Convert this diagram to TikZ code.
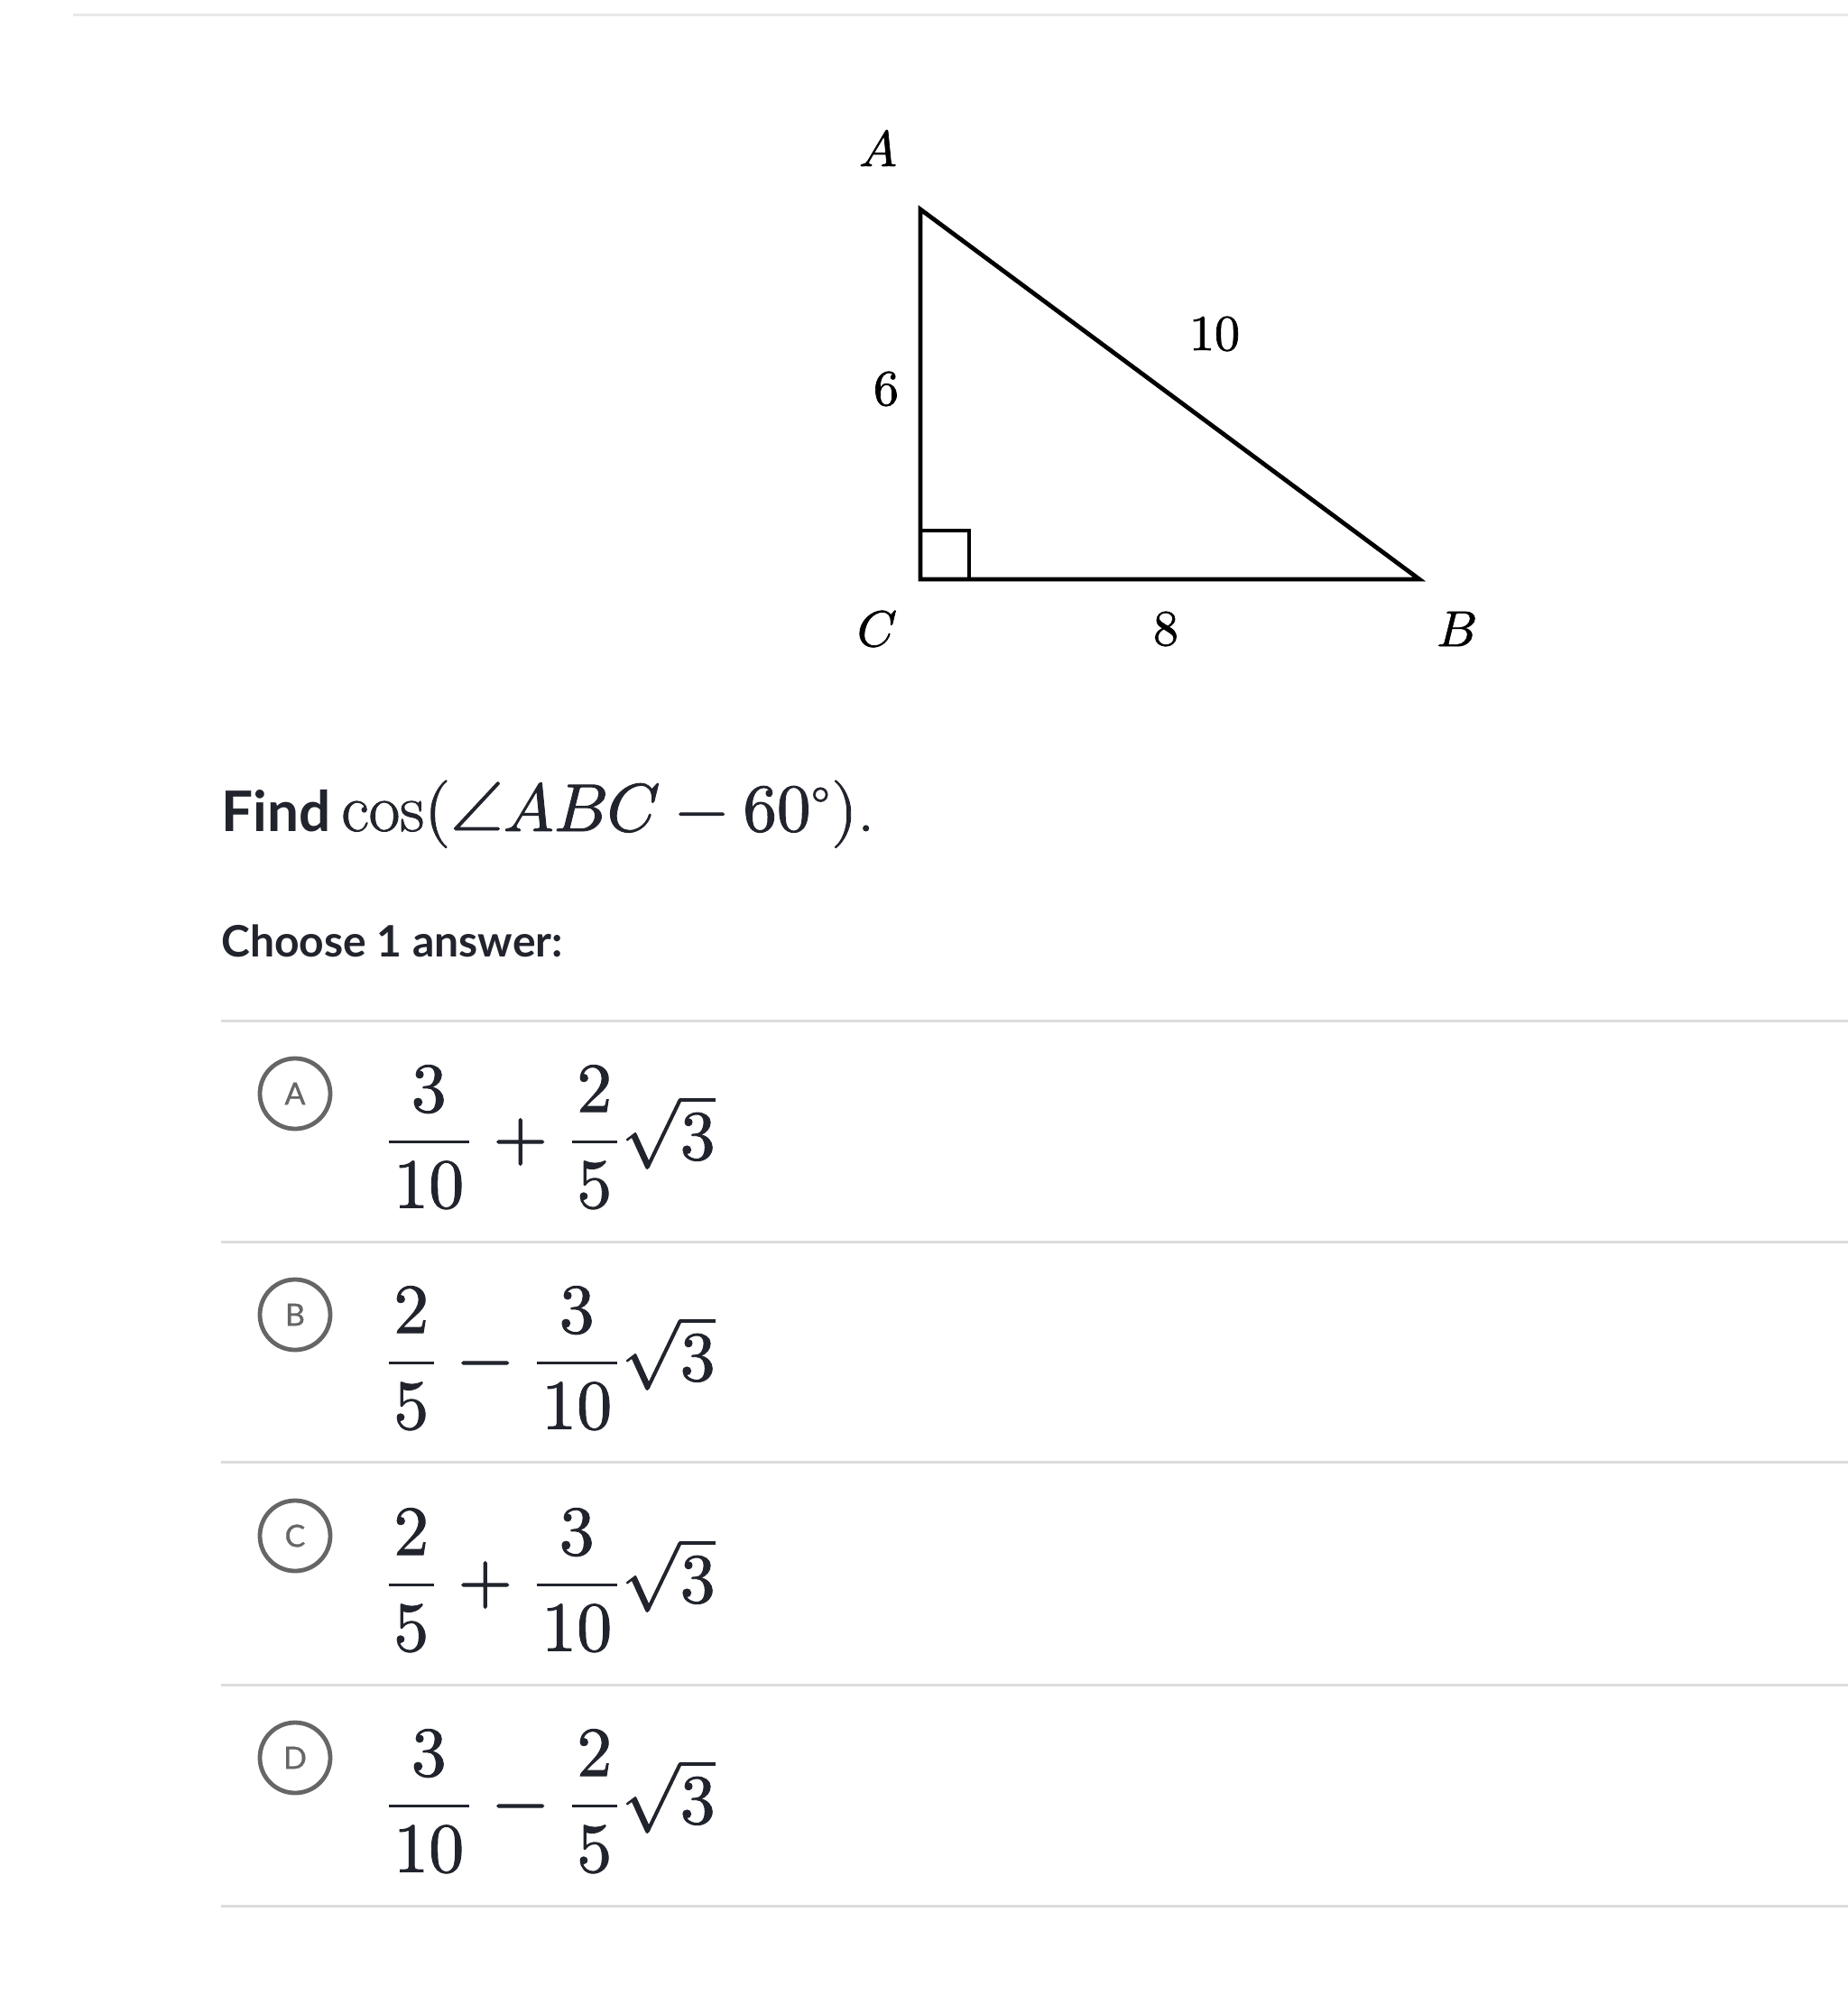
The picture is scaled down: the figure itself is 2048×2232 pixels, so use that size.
\documentclass[tikz,border=0pt]{standalone}
\usepackage{amsmath}
\usepackage{fontspec}
\usepackage{unicode-math}
\setmathfont{Latin Modern Math}[FakeBold=1.2]
\newfontfamily\lato{Lato}
\newfontfamily\latoc{Lato}[FakeBold=0.8]
\setmainfont{Latin Modern Roman}[FakeBold=1.2]
\definecolor{ink}{HTML}{21242C}
\definecolor{sepgray}{HTML}{DCDCDC}
\definecolor{topgray}{HTML}{E8E8E8}
\definecolor{optgray}{HTML}{666666}
\newcommand{\pd}[1]{\mkern1.25mu#1\mkern1.25mu}
\newcommand{\ansfont}{\fontsize{39pt}{46pt}\selectfont\setlength{\nulldelimiterspace}{4.7pt}}
\begin{document}
\begin{tikzpicture}[x=0.5pt,y=-0.5pt,
  sepline/.style={draw=sepgray, line width=1.5pt},
  tri/.style={draw=black, line width=2.4pt, line join=miter},
  lbl/.style={inner sep=0pt, font=\fontsize{28pt}{34pt}\selectfont},
  optc/.style={circle, draw=optgray, line width=2.4pt, minimum size=39pt, inner sep=0pt, text=optgray, font=\latoc\fontsize{17pt}{20pt}\selectfont},
  ans/.style={anchor=base west, inner sep=0pt, text=ink, font=\ansfont}]
\useasboundingbox (0,0) rectangle (2048,2232);
% top rule
\coordinate (t1) at (81,17);
\coordinate (t2) at (2048,17);
\draw[draw=topgray, line width=1.5pt] (t1) -- (t2);
% triangle
\coordinate (A) at (1020,232);
\coordinate (C) at (1020,642);
\coordinate (B) at (1573,642);
\draw[tri] (A) -- (B) -- (C) -- cycle;
\draw[tri] (C) ++(0,-54) -- ++(54,0) -- ++(0,54);
\node[lbl] (lA) at (973,164) {$A$};
\node[lbl] (lC) at (972,697) {$C$};
\node[lbl] (lB) at (1614,697) {$B$};
\node[lbl] (l6) at (982,431) {$6$};
\node[lbl] (l10) at (1346,370) {$10$};
\node[lbl] (l8) at (1292,697) {$8$};
% question
\node[anchor=base west, inner sep=0pt, text=ink] (q) at (245,921)
  {{\lato\bfseries\fontsize{31pt}{37pt}\selectfont Find}\hspace{6pt}{\fontsize{37.5pt}{44pt}\selectfont$\cos(\angle ABC-60^\circ)$.}};
\node[anchor=base west, inner sep=0pt, text=ink, font=\lato\bfseries\fontsize{24pt}{28pt}\selectfont] (ch) at (245,1060)
  {Choose 1 answer:};
% separators
\foreach \i/\yy in {1/1131,2/1376,3/1620,4/1867,5/2112}{
  \coordinate (s\i a) at (245,\yy);
  \coordinate (s\i b) at (2048,\yy);
  \draw[sepline] (s\i a) -- (s\i b);
}
% options
\node[optc] (oA) at (327,1212) {A};
\node[optc] (oB) at (327,1457) {B};
\node[optc] (oC) at (327,1702) {C};
\node[optc] (oD) at (327,1948) {D};
\node[ans] (eA) at (421,1285) {$\dfrac{\pd{3}}{\pd{10}}+\dfrac{\pd{2}}{\pd{5}}\mkern-1mu\sqrt{3}$};
\node[ans] (eB) at (421,1530) {$\dfrac{\pd{2}}{\pd{5}}-\dfrac{\pd{3}}{\pd{10}}\mkern-1mu\sqrt{3}$};
\node[ans] (eC) at (421,1776) {$\dfrac{\pd{2}}{\pd{5}}+\dfrac{\pd{3}}{\pd{10}}\mkern-1mu\sqrt{3}$};
\node[ans] (eD) at (421,2021) {$\dfrac{\pd{3}}{\pd{10}}-\dfrac{\pd{2}}{\pd{5}}\mkern-1mu\sqrt{3}$};
\end{tikzpicture}
\end{document}
